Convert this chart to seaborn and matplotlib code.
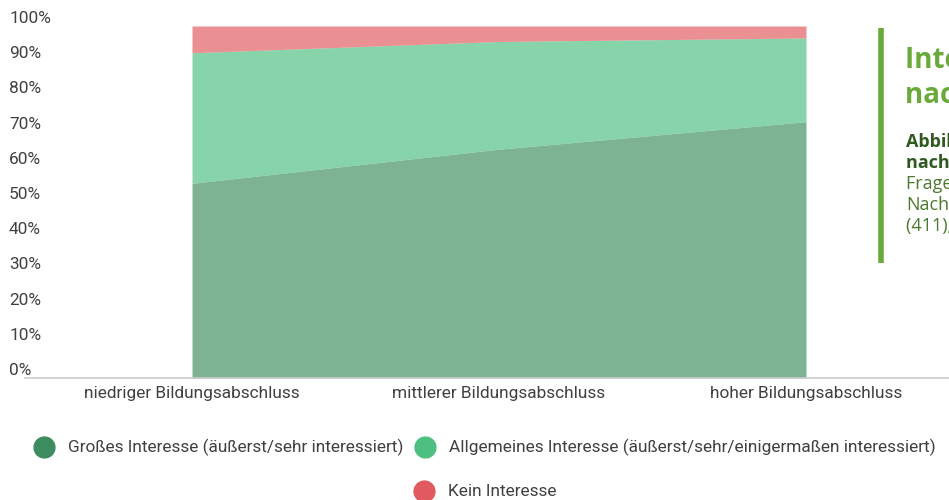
import matplotlib
matplotlib.use("Agg")
import matplotlib.pyplot as plt
from matplotlib.lines import Line2D
from matplotlib.transforms import ScaledTranslation
import seaborn as sns

kategorien = ["niedriger Bildungsabschluss", "mittlerer Bildungsabschluss", "hoher Bildungsabschluss"]
grosses_interesse = [55.3, 65.0, 72.8]
allgemeines_interesse = [92.4, 95.6, 96.6]   # inkl. grosses Interesse
kein_interesse = [7.6, 4.4, 3.4]

serien = ["Großes Interesse (äußerst/sehr interessiert)",
          "Allgemeines Interesse (äußerst/sehr/einigermaßen interessiert)",
          "Kein Interesse"]
farben = ["#3d8c5f", "#4dbf80", "#e05a5f"]
y_ticks = list(range(0, 101, 10))

sns.set_theme(style="white")
plt.rcParams["font.family"] = ["Roboto", "DejaVu Sans"]

fig = plt.figure(figsize=(9.49, 5.0), dpi=100)
# Achse reicht nach rechts ueber den Bildrand hinaus (Original ist abgeschnitten)
ax = fig.add_axes([25 / 949, 122 / 500, 948 / 949, 352 / 500])

x = list(range(len(kategorien)))
oben_allg = allgemeines_interesse
oben_kein = [a + k for a, k in zip(allgemeines_interesse, kein_interesse)]
ax.fill_between(x, 0, grosses_interesse, color=farben[0], alpha=0.67, lw=0)
ax.fill_between(x, grosses_interesse, oben_allg, color=farben[1], alpha=0.67, lw=0)
ax.fill_between(x, oben_allg, oben_kein, color=farben[2], alpha=0.67, lw=0)

ax.set_xlim(-0.544, 2.544)
ax.set_ylim(0, 100)
ax.set_xticks(x)
ax.set_xticklabels(kategorien, fontsize=12.4, color="#404040")
ax.set_yticks(y_ticks)
ax.set_yticklabels([f"{v}%" for v in y_ticks], fontsize=12.4, color="#404040")
ax.tick_params(axis="x", length=0, pad=6)
ax.tick_params(axis="y", length=0, pad=11.5)
for lab in ax.get_yticklabels():
    lab.set_horizontalalignment("left")
    lab.set_transform(lab.get_transform() + ScaledTranslation(0, 9 / 100, fig.dpi_scale_trans))

sns.despine(ax=ax, left=True, top=True, right=True)
ax.spines["bottom"].set_color("#cccccc")
ax.spines["bottom"].set_linewidth(1.2)

# Legende (manuell, zentriert umbrechend)
leg_pos = [(44, 447), (425, 447), (424, 491)]
for (px, py), name, col in zip(leg_pos, serien, farben):
    fx, fy = px / 949, 1 - py / 500
    fig.add_artist(Line2D([fx], [fy], marker="o", markersize=15, color=col,
                          lw=0, transform=fig.transFigure))
    fig.text(fx + 24 / 949, fy, name, fontsize=12.4, color="#404040",
             ha="left", va="center")

# Textkasten rechts (abgeschnitten)
fig.add_artist(Line2D([880.5 / 949, 880.5 / 949], [1 - 28 / 500, 1 - 263 / 500],
                      color="#6aaa3a", lw=4, transform=fig.transFigure,
                      solid_capstyle="butt"))
tf = ["Open Sans", "DejaVu Sans"]
fig.text(905 / 949, 1 - 60 / 500, "Interesse an Wissenschaft", fontsize=20,
         fontweight="bold", color="#6aaa3a", family=tf, va="center")
fig.text(905 / 949, 1 - 95 / 500, "nach Bildungsabschluss", fontsize=20,
         fontweight="bold", color="#6aaa3a", family=tf, va="center")
fig.text(906 / 949, 1 - 142 / 500, "Abbildung: Interesse", fontsize=13,
         fontweight="bold", color="#2f5a1f", family=tf, va="center")
fig.text(906 / 949, 1 - 163 / 500, "nach Bildungsabschluss", fontsize=13,
         fontweight="bold", color="#2f5a1f", family=tf, va="center")
fig.text(906 / 949, 1 - 184 / 500, "Fragen zum Interesse", fontsize=13,
         color="#4b7a2e", family=tf, va="center")
fig.text(906 / 949, 1 - 205 / 500, "Nachgefragt", fontsize=13,
         color="#4b7a2e", family=tf, va="center")
fig.text(906 / 949, 1 - 226 / 500, "(411); n = 1000", fontsize=13,
         color="#4b7a2e", family=tf, va="center")

fig.savefig("out.png", dpi=100)
